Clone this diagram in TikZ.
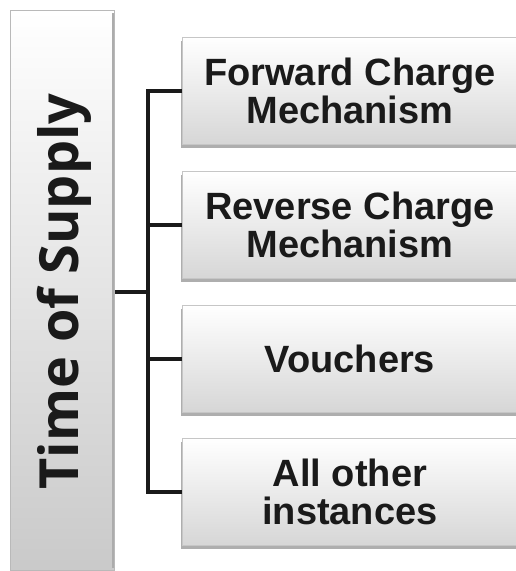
\documentclass[tikz,border=0pt]{standalone}
\usepackage{fontspec}
\setmainfont{Liberation Sans}
\newfontfamily\leftfont{Open Sans}
\usetikzlibrary{shadows}
\definecolor{ink}{HTML}{1A1A1A}
\tikzset{
  branch/.style={rectangle, anchor=north west, minimum width=335pt, minimum height=107pt,
    top color=white, bottom color=gray!32, draw=gray!45, line width=0.8pt,
    drop shadow={shadow xshift=-1pt, shadow yshift=-3.5pt, fill=gray!85, opacity=0.75},
    text=ink, align=center, font=\fontsize{38}{38}\selectfont\bfseries},
  rootbox/.style={rectangle, anchor=north west, minimum width=104pt, minimum height=560pt,
    top color=white, bottom color=gray!42, draw=gray!55, line width=0.8pt},
  link/.style={draw=ink, line width=3.5pt, line join=miter}
}
\begin{document}
\begin{tikzpicture}[x=1pt,y=-1pt]
\useasboundingbox (0,0) rectangle (515,571);
\node[rootbox] (root) at (10,10) {};
\draw[gray!65, line width=1.5pt] ([xshift=-2pt,yshift=-3pt]root.north east) -- ([xshift=-2pt,yshift=3pt]root.south east);
\node[rotate=90, anchor=base, text=ink, font=\leftfont\fontsize{54}{54}\selectfont\bfseries] (roottext) at (78,291.5) {Time of Supply};
\node[branch] (b1) at (182,37) {Forward Charge\\Mechanism};
\node[branch] (b2) at (182,171) {Reverse Charge\\Mechanism};
\node[branch] (b3) at (182,305) {Vouchers};
\node[branch] (b4) at (182,438) {All other\\instances};
\coordinate (j) at (148,292);
\draw[link] (root.east |- j) -- (j);
\draw[link] (b1.west) -| (j) |- (b4.west);
\draw[link] (b2.west) -- (b2.west -| j);
\draw[link] (b3.west) -- (b3.west -| j);
\end{tikzpicture}
\end{document}
